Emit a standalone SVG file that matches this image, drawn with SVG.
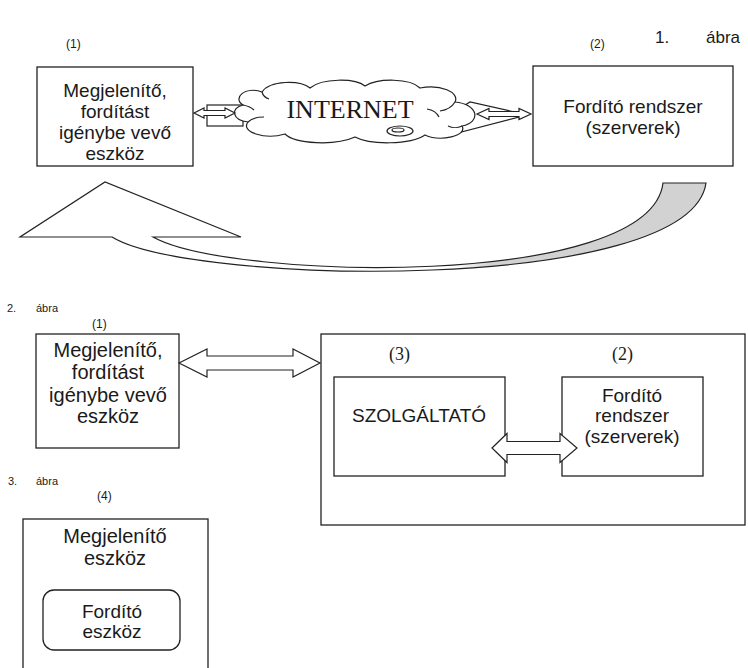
<svg xmlns="http://www.w3.org/2000/svg" width="748" height="668" viewBox="0 0 748 668">
<style>
.bx{fill:#fff;stroke:#222;stroke-width:1.3}
.ln{fill:none;stroke:#222;stroke-width:1.2}
.ar{fill:#fff;stroke:#222;stroke-width:1.2;stroke-linejoin:miter}
.s{font-family:"Liberation Sans",Arial,sans-serif;fill:#1a1a1a}
.r{font-family:"Liberation Serif","Times New Roman",serif;fill:#1a1a1a}
.m{text-anchor:middle}
</style>
<defs>
<linearGradient id="tailfill" gradientUnits="userSpaceOnUse" x1="455" y1="0" x2="490" y2="0">
<stop offset="0" stop-color="#ffffff"/>
<stop offset="1" stop-color="#d2d2d2"/>
</linearGradient>
</defs>
<rect width="748" height="668" fill="#fff"/>

<!-- Figure 1 -->
<text class="s" x="655" y="43" font-size="17">1.</text>
<text class="s" x="706" y="43" font-size="17">ábra</text>
<text class="s" x="66" y="48" font-size="12">(1)</text>
<text class="s" x="590" y="48" font-size="12">(2)</text>

<g id="f1-device">
<rect class="bx" x="37" y="67" width="156" height="99"/>
<text class="s m" font-size="19" x="115" y="97">Megjelenítő,</text>
<text class="s m" font-size="19" x="115" y="118">fordítást</text>
<text class="s m" font-size="19" x="115" y="139">igénybe vevő</text>
<text class="s m" font-size="19" x="115" y="160">eszköz</text>
</g>

<g id="f1-server">
<rect class="bx" x="533" y="66" width="200" height="100"/>
<text class="s m" font-size="19" x="633" y="113">Fordító rendszer</text>
<text class="s m" font-size="19" x="633" y="134">(szerverek)</text>
</g>

<g id="f1-internet">
<rect class="ar" x="207" y="105" width="36" height="21"/>
<polygon class="ar" points="442,120 470,102 519,113 519,117 442,137"/>
<path class="ar" d="M243 105 C232 98 245 86 262 92 C270 80 300 80 310 88 C322 78 355 78 365 86 C378 78 410 78 420 88 C440 84 460 92 455 102 C478 104 482 122 462 126 C468 136 440 142 425 135 C410 145 370 145 355 137 C335 146 295 144 285 134 C265 140 240 132 248 122 C232 120 230 108 243 105 Z"/>
<path class="ln" d="M243 105 C248 106 252 108 254 110"/>
<path class="ln" d="M248 122 C252 118 258 117 264 117"/>
<path class="ln" d="M262 92 C263 96 266 98 269 99"/>
<path class="ln" d="M455 102 C452 107 447 110 440 111"/>
<path class="ln" d="M427 109 C433 110 437 113 439 117"/>
<path class="ln" d="M462 126 C458 128 452 128 448 126"/>
<ellipse class="ar" cx="400" cy="131" rx="13" ry="5"/>
<ellipse class="ln" cx="398" cy="130" rx="6" ry="2"/>
<text class="r m" font-size="26" x="350" y="118">INTERNET</text>
</g>

<g id="f1-connectors">
<path class="ar" d="M194 113 L204 108 L204 110.5 L225 110.5 L225 108 L235 113 L225 118 L225 115.5 L204 115.5 L204 118 Z"/>
<path class="ar" d="M477 114 L489 108.5 L489 111.5 L519 111.5 L519 108.5 L531 114 L519 119.5 L519 116.5 L489 116.5 L489 119.5 Z"/>
<path fill="url(#tailfill)" stroke="#222" stroke-width="1.2" stroke-linejoin="miter" d="M112 237 C190 285 690 295 706 183 L663 183 C650 290 230 280 153 237 L241 237 L105 182 L20 237 Z"/>
</g>

<!-- Figure 2 -->
<text class="s" x="7" y="312" font-size="11">2.</text>
<text class="s" x="36" y="312" font-size="11">ábra</text>
<text class="s" x="92" y="328" font-size="12">(1)</text>

<g id="f2-device">
<rect class="bx" x="36" y="334" width="143" height="114"/>
<text class="s m" font-size="20" x="108" y="357">Megjelenítő,</text>
<text class="s m" font-size="20" x="108" y="379">fordítást</text>
<text class="s m" font-size="20" x="108" y="402">igénybe vevő</text>
<text class="s m" font-size="20" x="108" y="423">eszköz</text>
</g>

<g id="f2-outer">
<rect class="bx" x="321" y="334" width="424" height="191"/>
<text class="r" font-size="18" x="389" y="360">(3)</text>
<text class="r" font-size="18" x="612" y="360">(2)</text>
</g>

<g id="f2-provider">
<rect class="bx" x="334" y="377" width="171" height="99"/>
<text class="s m" font-size="19" x="419" y="422">SZOLGÁLTATÓ</text>
</g>

<g id="f2-server">
<rect class="bx" x="562" y="377" width="141" height="99"/>
<text class="s m" font-size="19" x="632" y="402">Fordító</text>
<text class="s m" font-size="19" x="632" y="422">rendszer</text>
<text class="s m" font-size="19" x="632" y="443">(szerverek)</text>
</g>

<g id="f2-connectors">
<path class="ar" d="M179 363 L207 349 L207 356 L293 356 L293 349 L320 363 L293 377 L293 370 L207 370 L207 377 Z"/>
<path class="ar" d="M492 448 L507 433.5 L507 441.5 L560 441.5 L560 433.5 L577 448 L560 462.5 L560 454.5 L507 454.5 L507 462.5 Z"/>
</g>

<!-- Figure 3 -->
<text class="s" x="8" y="485" font-size="11">3.</text>
<text class="s" x="36" y="485" font-size="11">ábra</text>
<text class="s" x="97" y="500" font-size="12">(4)</text>

<g id="f3-device">
<rect class="bx" x="23" y="519" width="185" height="170"/>
<text class="s m" font-size="20" x="115" y="543">Megjelenítő</text>
<text class="s m" font-size="20" x="115" y="565">eszköz</text>
</g>

<g id="f3-translator">
<rect class="bx" x="43" y="590" width="137" height="60" rx="11"/>
<text class="s m" font-size="19" x="112" y="618">Fordító</text>
<text class="s m" font-size="19" x="112" y="638">eszköz</text>
</g>
</svg>
